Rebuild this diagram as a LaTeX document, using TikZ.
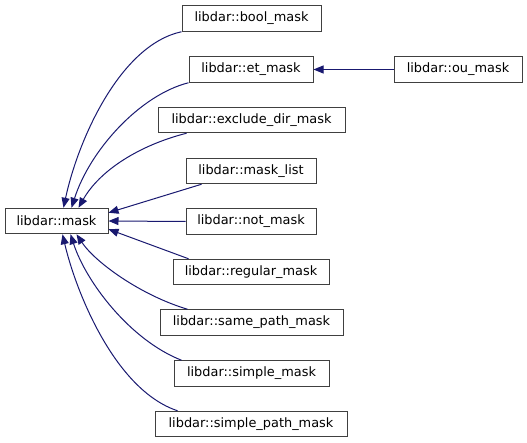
\documentclass[tikz,border=0pt]{standalone}
\usepackage{fontspec}
\setmainfont{DejaVu Sans}
\usetikzlibrary{arrows.meta}
\definecolor{edgec}{HTML}{191970}
\definecolor{boxc}{HTML}{404040}
\begin{document}
\begin{tikzpicture}[x=1pt,y=-1pt,
  cls/.style={draw=boxc, line width=1pt, fill=white, minimum height=25.5pt, inner sep=0pt,
    font=\fontsize{12.9}{14}\selectfont},
  inh/.style={draw=edgec, line width=1pt, -{Triangle[length=10pt,width=8pt]}}]
\useasboundingbox (0,0) rectangle (527,443);
\node[cls, minimum width=103pt] (mask) at (56.5,221) {libdar::mask};
\node[cls, minimum width=139pt] (bool) at (251.5,18.5) {libdar::bool\_mask};
\node[cls, minimum width=124pt] (et) at (251,69.5) {libdar::et\_mask};
\node[cls, minimum width=128pt] (ou) at (458,69.5) {libdar::ou\_mask};
\node[cls, minimum width=187pt] (excl) at (251.5,120) {libdar::exclude\_dir\_mask};
\node[cls, minimum width=130pt] (mlist) at (251,171) {libdar::mask\_list};
\node[cls, minimum width=130pt] (notm) at (251,221.5) {libdar::not\_mask};
\node[cls, minimum width=156pt] (reg) at (251,272) {libdar::regular\_mask};
\node[cls, minimum width=183pt] (same) at (251.5,322.5) {libdar::same\_path\_mask};
\node[cls, minimum width=155pt] (simple) at (251.5,373.5) {libdar::simple\_mask};
\node[cls, minimum width=192pt] (spath) at (251,424) {libdar::simple\_path\_mask};

\draw[inh] (ou.west) -- (et.east);
\draw[inh] (bool.south west) .. controls (120,45) and (78,140) .. ([xshift=59pt]mask.north west);
\draw[inh] ([xshift=0pt]et.south west) .. controls (140,95) and (90,150) .. ([xshift=67pt]mask.north west);
\draw[inh] ([xshift=29pt]excl.south west) .. controls (140,145) and (100,170) .. ([xshift=74pt]mask.north west);
\draw[inh] ([xshift=16pt]mlist.south west) -- ([yshift=-5pt]mask.north east);
\draw[inh] (notm.west) -- (mask.east);
\draw[inh] ([xshift=16pt]reg.north west) -- ([yshift=5pt]mask.south east);
\draw[inh] ([xshift=28pt]same.north west) .. controls (140,295) and (95,262) .. ([xshift=72pt]mask.south west);
\draw[inh] ([xshift=8pt]simple.north west) .. controls (130,340) and (86,282) .. ([xshift=66pt]mask.south west);
\draw[inh] ([xshift=23pt]spath.north west) .. controls (115,390) and (76,292) .. ([xshift=58pt]mask.south west);
\end{tikzpicture}
\end{document}
